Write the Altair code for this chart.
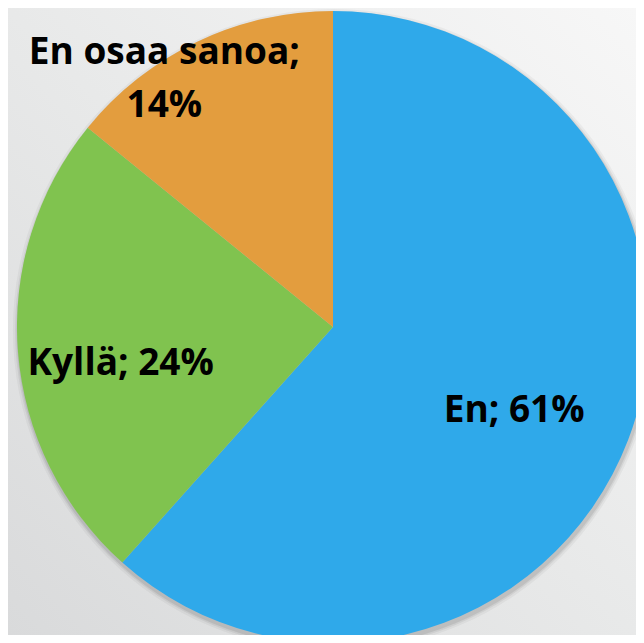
import altair as alt
import pandas as pd

categories = ["En", "Kyllä", "En osaa sanoa"]
values = [61, 24, 14]
colors = ["#2FA9EA", "#80C34F", "#E39D3E"]

df = pd.DataFrame({"category": categories, "value": values, "order": list(range(len(categories)))})

W, H = 628, 627
CX, CY = 325, 319
R = 316
FONT = "Open Sans"
FS = 37

# background gradient
bg = alt.Chart(pd.DataFrame({"a": [0]})).mark_rect(
    color={
        "gradient": "linear",
        "x1": 1, "y1": 0, "x2": 0, "y2": 1,
        "stops": [
            {"offset": 0, "color": "#F7F7F7"},
            {"offset": 0.5, "color": "#E8E9E9"},
            {"offset": 1, "color": "#D9DADB"},
        ],
    }
).encode(x=alt.value(0), x2=alt.value(W), y=alt.value(0), y2=alt.value(H))

# soft shadow
shadows = []
for dr, op in [(5, 0.04), (3, 0.06), (1.5, 0.08)]:
    shadows.append(
        alt.Chart(pd.DataFrame({"a": [0]})).mark_arc(
            theta=0, theta2=6.2832, radius=R + dr, color="#000000", opacity=op
        ).encode(x=alt.value(CX + 1), y=alt.value(CY + 3))
    )

pie = alt.Chart(df).mark_arc(radius=R).encode(
    theta=alt.Theta("value:Q", stack=True),
    color=alt.Color("category:N", scale=alt.Scale(domain=categories, range=colors), legend=None),
    order=alt.Order("order:Q"),
    x=alt.value(CX),
    y=alt.value(CY),
)

lab_base = alt.Chart(df).transform_window(
    cum="sum(value)", sort=[{"field": "order"}]
).transform_joinaggregate(total="sum(value)").transform_calculate(
    mid="(datum.cum - datum.value/2) / datum.total * 2 * PI"
)

label_layout = {
    "En": dict(radius=195, dx=-1, dy=25, sep="; "),
    "Kyllä": dict(radius=213, dx=0, dy=31, sep="; "),
    "En osaa sanoa": dict(radius=290, dx=-44, dy=-1, sep=";\\n"),
}

labels = []
for cat in categories:
    lay = label_layout[cat]
    labels.append(
        lab_base.transform_filter(alt.datum.category == cat)
        .transform_calculate(label="datum.category + '" + lay["sep"] + "' + datum.value + '%'")
        .mark_text(
            radius=lay["radius"], dx=lay["dx"], dy=lay["dy"],
            font=FONT, fontSize=FS, fontWeight="bold", color="#000000",
            lineBreak="\n", lineHeight=53, align="center", baseline="alphabetic",
        )
        .encode(theta=alt.Theta("mid:Q", scale=None), text="label:N",
                x=alt.value(CX), y=alt.value(CY))
    )

chart = alt.layer(bg, *shadows, pie, *labels).properties(
    width=W, height=H, padding=0, autosize=alt.AutoSizeParams(type="none")
).configure_view(strokeWidth=0).configure(background="#E9EAEA")

chart.save("out.html", embed_options={"renderer": "svg", "actions": False})
